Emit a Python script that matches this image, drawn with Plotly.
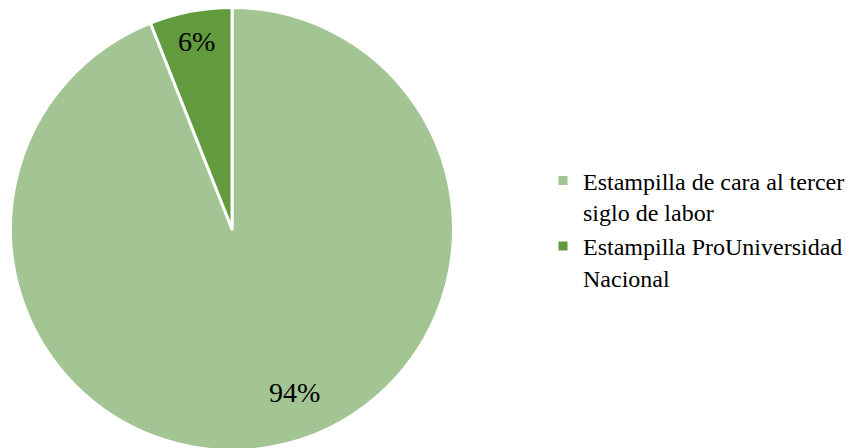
import numpy as np
import plotly.graph_objects as go

labels = ["Estampilla de cara al tercer<br>siglo de labor", "Estampilla ProUniversidad<br>Nacional"]
values = [94, 6]
colors = ["#A2C593", "#629A3E"]
label_radius = [0.79, 0.86]  # how far out each percent label sits (fraction of radius)
label_turn = [0.47, 0.5]     # where along each slice the label sits (0 = slice start, 1 = end)

# page is a little larger than the 846x448 window; overflow is hidden
W, H = 860, 458
cx, cy, r = 232, 229, 221.5  # pie centre and radius in pixels

fig = go.Figure()
fig.add_trace(go.Pie(
    labels=labels,
    values=values,
    sort=False,
    direction="clockwise",
    rotation=0,
    marker=dict(colors=colors, line=dict(color="white", width=3)),
    textinfo="none",
    hoverinfo="label+percent",
    domain=dict(x=[(cx - r) / W, (cx + r) / W], y=[(H - cy - r) / H, (H - cy + r) / H]),
))

# percent labels placed along each slice
total = sum(values)
start = 0.0
for v, k, t in zip(values, label_radius, label_turn):
    mid = start + v / total * t
    ang = np.pi / 2 - 2 * np.pi * mid
    rr = k * r
    px_x = cx + rr * np.cos(ang)
    px_y = cy - rr * np.sin(ang)
    fig.add_annotation(
        x=px_x / W, y=1 - px_y / H, xref="paper", yref="paper",
        xanchor="center", yanchor="middle",
        text=f"{round(v / total * 100)}%", showarrow=False,
        font=dict(family="Liberation Serif", size=28, color="black"),
    )
    start += v / total

fig.update_layout(
    width=W, height=H,
    margin=dict(l=0, r=0, t=0, b=0),
    paper_bgcolor="white",
    plot_bgcolor="white",
    showlegend=True,
    legend=dict(
        x=543 / W, y=1 - 229 / H, xanchor="left", yanchor="middle",
        font=dict(family="Liberation Serif", size=24, color="black"),
        itemwidth=30,
        tracegroupgap=0,
        valign="top",
    ),
)

fig.write_html(
    "out.html",
    config={"displayModeBar": False},
    post_script="document.body.style.margin='0px'; document.body.style.overflow='hidden';",
)
